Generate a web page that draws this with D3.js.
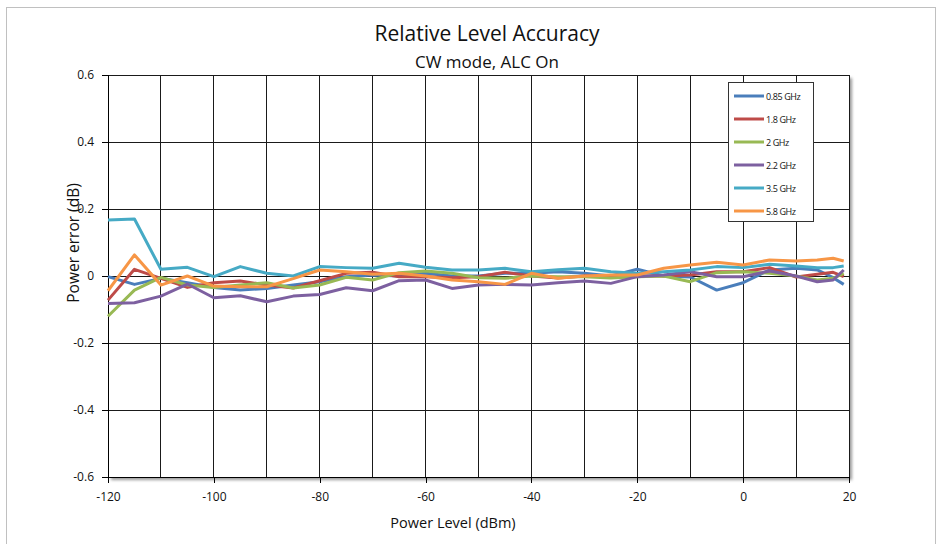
<!DOCTYPE html>
<html>
<head>
<meta charset="utf-8">
<script src="https://cdn.jsdelivr.net/npm/d3@7"></script>
<style>
  body { margin: 0; background: #fff; }
  svg { display: block; font-family: "Open Sans", sans-serif; }
</style>
</head>
<body>
<div id="Area"></div>
<script>
// power levels (dBm)
var levels = [-120, -115, -110, -105, -100, -95, -90, -85, -80, -75, -70, -65, -60, -55, -50,
              -45, -40, -35, -30, -25, -20, -15, -10, -5, 0, 5, 10, 14, 17, 19];

var seriesNames = ["0.85 GHz", "1.8 GHz", "2 GHz", "2.2 GHz", "3.5 GHz", "5.8 GHz"];
var seriesColors = ["#4a7ebb", "#be4b48", "#98b954", "#7d60a0", "#46aac5", "#f79646"];

var err085 = [-0.002, -0.025, -0.007, -0.020, -0.034, -0.042, -0.037, -0.027, -0.017, -0.002,
              0.003, 0.000, 0.008, 0.000, 0.000, 0.008, 0.008, 0.013, 0.008, 0.000,
              0.020, 0.000, -0.003, -0.042, -0.020, 0.018, 0.023, 0.018, -0.005, -0.025];
var err18  = [-0.072, 0.020, -0.007, -0.034, -0.020, -0.015, -0.027, -0.036, -0.014, 0.008,
              0.011, -0.002, -0.002, -0.005, -0.002, 0.011, 0.000, -0.006, 0.000, 0.000,
              0.000, 0.000, 0.003, 0.013, 0.013, 0.025, -0.003, 0.005, 0.011, -0.002];
var err2   = [-0.120, -0.042, -0.004, -0.027, -0.034, -0.027, -0.020, -0.036, -0.027, -0.004,
              -0.012, 0.010, 0.015, 0.008, -0.005, -0.007, 0.000, -0.002, -0.002, -0.006,
              -0.002, 0.000, -0.017, 0.010, 0.013, 0.008, 0.000, -0.012, -0.007, 0.008];
var err22  = [-0.082, -0.080, -0.060, -0.024, -0.065, -0.059, -0.077, -0.060, -0.055, -0.035,
              -0.044, -0.014, -0.012, -0.037, -0.027, -0.025, -0.027, -0.020, -0.015, -0.022,
              -0.002, 0.003, 0.013, -0.002, -0.002, 0.015, 0.000, -0.017, -0.012, 0.018];
var err35  = [0.167, 0.170, 0.020, 0.026, -0.002, 0.028, 0.008, 0.000, 0.028, 0.025,
              0.023, 0.038, 0.026, 0.018, 0.018, 0.023, 0.013, 0.019, 0.023, 0.013,
              0.008, 0.013, 0.018, 0.028, 0.025, 0.035, 0.030, 0.025, 0.025, 0.030];
var err58  = [-0.044, 0.063, -0.027, 0.000, -0.030, -0.032, -0.032, -0.008, 0.018, 0.013,
              0.005, 0.008, 0.000, -0.012, -0.017, -0.025, 0.008, -0.007, 0.000, 0.003,
              0.003, 0.023, 0.033, 0.041, 0.033, 0.048, 0.045, 0.048, 0.053, 0.045];

var allErr = [err085, err18, err2, err22, err35, err58];

var xTicks = [-120, -100, -80, -60, -40, -20, 0, 20];
var xGrid = d3.range(-120, 21, 10);
var yTicks = [-0.6, -0.4, -0.2, 0, 0.2, 0.4, 0.6];

var W = 943, H = 544;
var margin = {top: 75, right: 94, bottom: 67, left: 108};

var svg = d3.select("#Area")
  .append("svg")
    .attr("width", W)
    .attr("height", H);

// outer chart border
svg.append("rect")
  .attr("x", 6.5).attr("y", 7.5)
  .attr("width", 929).attr("height", 560)
  .attr("fill", "#fff")
  .attr("stroke", "#c0c0c0");

var x = d3.scaleLinear()
    .domain([-120, 20])
    .range([margin.left, W - margin.right]);
var y = d3.scaleLinear()
    .domain([-0.6, 0.6])
    .range([H - margin.bottom, margin.top]);

// plot area shadow
var defs = svg.append("defs");
defs.append("filter").attr("id", "shadow")
  .append("feGaussianBlur").attr("stdDeviation", 1.8);
svg.append("rect")
  .attr("x", x(-120) + 3).attr("y", y(0.6) + 3)
  .attr("width", x(20) - x(-120)).attr("height", y(-0.6) - y(0.6))
  .attr("fill", "#9a9a9a")
  .attr("filter", "url(#shadow)");
svg.append("rect")
  .attr("x", x(-120)).attr("y", y(0.6))
  .attr("width", x(20) - x(-120)).attr("height", y(-0.6) - y(0.6))
  .attr("fill", "#fff");

// gridlines
var grid = svg.append("g").attr("shape-rendering", "crispEdges");
grid.selectAll(".vg")
  .data(xGrid)
  .enter()
  .append("line")
    .attr("x1", function(d){ return x(d) }).attr("x2", function(d){ return x(d) })
    .attr("y1", y(0.6)).attr("y2", y(-0.6))
    .attr("stroke", "#1a1a1a");
grid.selectAll(".hg")
  .data(yTicks)
  .enter()
  .append("line")
    .attr("x1", x(-120)).attr("x2", x(20))
    .attr("y1", function(d){ return y(d) }).attr("y2", function(d){ return y(d) })
    .attr("stroke", "#1a1a1a");

// axes (plain hyphen for negatives, like the original)
var xAxis = svg.append("g")
  .attr("transform", "translate(0," + y(-0.6) + ")")
  .call(d3.axisBottom(x).tickValues(xTicks).tickSize(6).tickPadding(9)
    .tickFormat(function(d){ return String(d) }));
var yAxis = svg.append("g")
  .attr("transform", "translate(" + x(-120) + ",0)")
  .call(d3.axisLeft(y).tickValues(yTicks).tickSize(6).tickPadding(8)
    .tickFormat(function(d){ return d === 0 ? "0" : d.toFixed(1) }));
[xAxis, yAxis].forEach(function(a) {
  a.attr("shape-rendering", "crispEdges");
  a.select(".domain").attr("stroke", "#000");
  a.selectAll(".tick line").attr("stroke", "#000");
  a.selectAll("text")
    .attr("fill", "#111")
    .style("font-family", "'Open Sans', sans-serif")
    .style("font-size", "12px");
});

// lines
var line = d3.line()
  .x(function(d, i){ return x(levels[i]) })
  .y(function(d){ return y(d) });

svg.selectAll(".series")
  .data(allErr)
  .enter()
  .append("path")
    .classed("series", true)
    .attr("d", line)
    .attr("fill", "none")
    .attr("stroke", function(d, i){ return seriesColors[i] })
    .attr("stroke-width", 3)
    .attr("stroke-linejoin", "round");

// titles
svg.append("text")
  .attr("x", 487).attr("y", 41)
  .attr("text-anchor", "middle")
  .style("font-size", "21px")
  .attr("fill", "#111")
  .text("Relative Level Accuracy");
svg.append("text")
  .attr("x", 487).attr("y", 68)
  .attr("text-anchor", "middle")
  .style("font-size", "17px")
  .attr("fill", "#111")
  .text("CW mode, ALC On");
svg.append("text")
  .attr("x", 453).attr("y", 528)
  .attr("text-anchor", "middle")
  .style("font-size", "14.5px")
  .attr("fill", "#111")
  .text("Power Level (dBm)");
svg.append("text")
  .attr("transform", "translate(79,243) rotate(-90)")
  .attr("text-anchor", "middle")
  .style("font-size", "15.5px")
  .attr("fill", "#111")
  .text("Power error (dB)");

// legend
var legend = svg.append("g").attr("transform", "translate(728,82)");
legend.append("rect")
  .attr("x", 0.5).attr("y", 0.5)
  .attr("width", 85).attr("height", 139)
  .attr("fill", "#fff")
  .attr("stroke", "#333")
  .attr("shape-rendering", "crispEdges");
var item = legend.selectAll(".item")
  .data(seriesNames)
  .enter()
  .append("g")
    .attr("transform", function(d, i){ return "translate(0," + (14 + i * 23) + ")" });
item.append("line")
  .attr("x1", 6).attr("x2", 36)
  .attr("stroke", function(d, i){ return seriesColors[i] })
  .attr("stroke-width", 3);
item.append("text")
  .attr("x", 38).attr("y", 3.5)
  .style("font-size", "9px")
  .style("letter-spacing", "-0.4px")
  .attr("fill", "#111")
  .text(function(d){ return d });
</script>
</body>
</html>
